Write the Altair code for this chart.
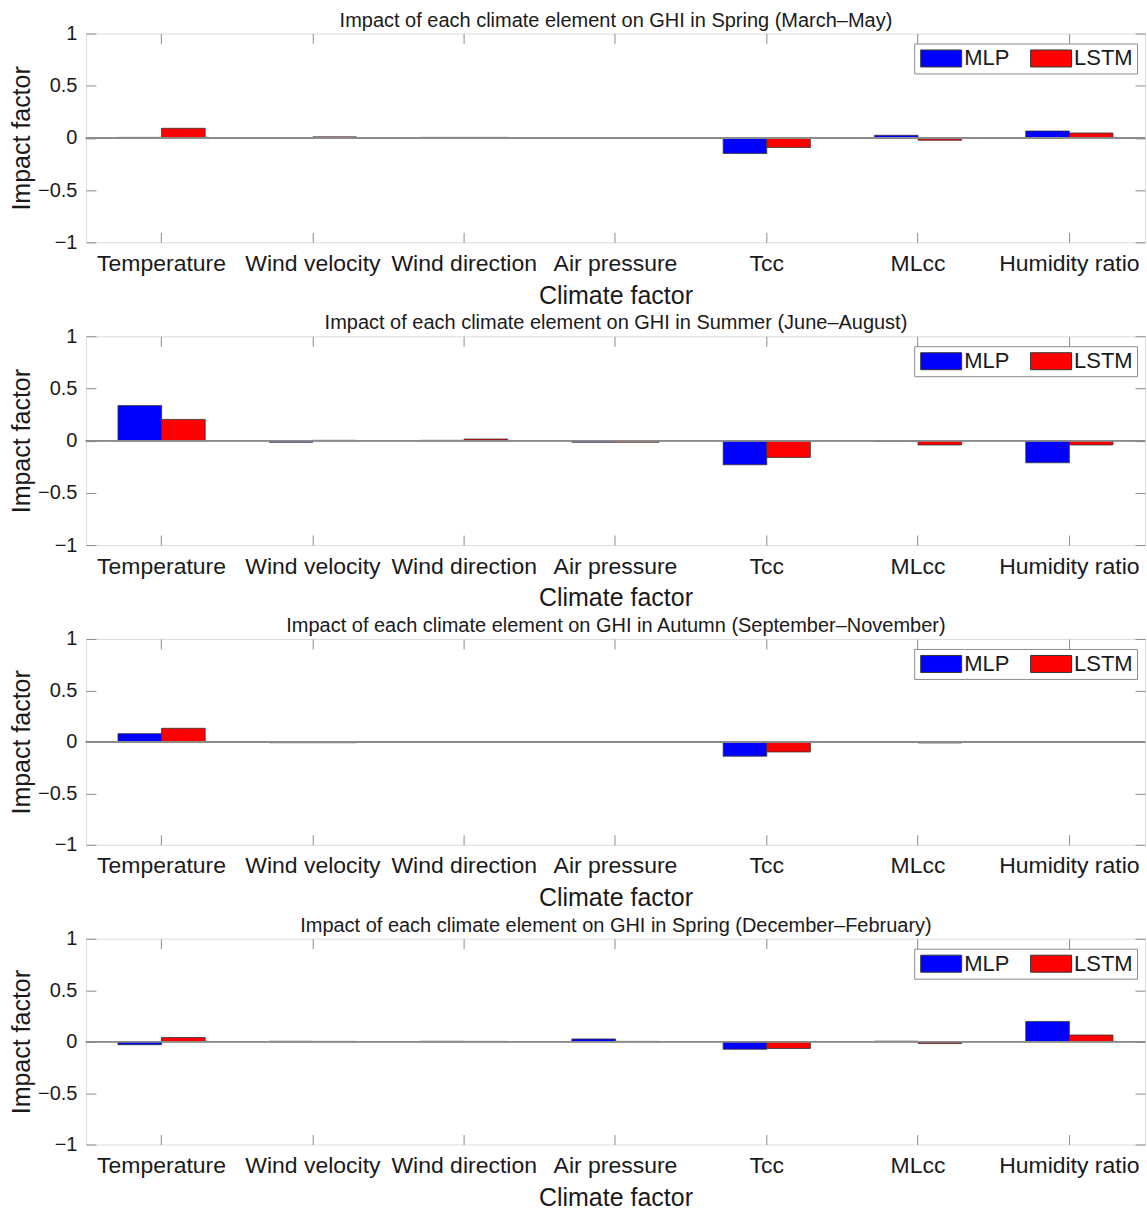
import altair as alt
import pandas as pd

categories = ["Temperature", "Wind velocity", "Wind direction", "Air pressure", "Tcc", "MLcc", "Humidity ratio"]
models = ["MLP", "LSTM"]
titles = [
    "Impact of each climate element on GHI in Spring (March\u2013May)",
    "Impact of each climate element on GHI in Summer (June\u2013August)",
    "Impact of each climate element on GHI in Autumn (September\u2013November)",
    "Impact of each climate element on GHI in Spring (December\u2013February)",
]
y_ticks = [-1, -0.5, 0, 0.5, 1]

mlp_spring = [0.005, 0.002, 0.005, -0.003, -0.149, 0.025, 0.066]
lstm_spring = [0.092, 0.010, 0.005, 0.002, -0.092, -0.022, 0.047]
mlp_summer = [0.336, -0.015, 0.003, -0.015, -0.231, -0.005, -0.212]
lstm_summer = [0.203, 0.003, 0.015, -0.015, -0.161, -0.041, -0.041]
mlp_autumn = [0.080, -0.008, 0.004, 0.002, -0.139, 0.002, 0.003]
lstm_autumn = [0.132, -0.008, 0.002, -0.003, -0.098, -0.010, -0.003]
mlp_winter = [-0.030, 0.003, 0.003, 0.026, -0.074, 0.004, 0.196]
lstm_winter = [0.040, 0.002, 0.002, 0.002, -0.067, -0.019, 0.064]

series = [
    (mlp_spring, lstm_spring),
    (mlp_summer, lstm_summer),
    (mlp_autumn, lstm_autumn),
    (mlp_winter, lstm_winter),
]

FONT = "Liberation Sans"
GREY = "#8c8c8c"
TXT = "#1a1a1a"
W = 1060
HEIGHTS = [209, 209, 206, 206]


def panel(title, mlp, lstm, h):
    df = pd.DataFrame({
        "factor": categories * 2,
        "model": [models[0]] * len(categories) + [models[1]] * len(categories),
        "value": list(mlp) + list(lstm),
    })
    base = alt.Chart(df)
    xscale = alt.Scale(paddingInner=0, paddingOuter=0)
    yscale = alt.Scale(domain=[-1, 1], nice=False, zero=False)
    xoff = alt.XOffset("model:N", sort=models,
                       scale=alt.Scale(paddingInner=0, paddingOuter=0.735))

    bars = base.mark_bar(stroke="#333333", strokeWidth=0.8).encode(
        x=alt.X("factor:N", sort=categories, scale=xscale,
                axis=alt.Axis(orient="bottom", offset=-10, tickSize=10, domain=False,
                              labelPadding=10, labelAngle=0, labelFontSize=23,
                              labelFont=FONT, labelColor=TXT, tickColor=GREY,
                              title="Climate factor", titleFontSize=25, titleFont=FONT,
                              titleFontWeight="normal", titleColor=TXT, titlePadding=8,
                              grid=False)),
        xOffset=xoff,
        y=alt.Y("value:Q", scale=yscale, stack=None,
                axis=alt.Axis(orient="left", offset=-10, tickSize=10, domain=False,
                              values=y_ticks, format="~g", labelPadding=9,
                              labelFontSize=20, labelFont=FONT, labelColor=TXT,
                              tickColor=GREY, title="Impact factor", titleFontSize=25,
                              titleFont=FONT, titleFontWeight="normal", titleColor=TXT,
                              titlePadding=3, grid=False)),
        color=alt.Color("model:N", sort=models,
                        scale=alt.Scale(domain=models, range=["#0000ff", "#ff0000"]),
                        legend=alt.Legend(orient="none", legendX=829, legendY=10,
                                          direction="horizontal", title=None,
                                          symbolType="M-2.41,-1L2.41,-1L2.41,1L-2.41,1Z",
                                          symbolSize=289, symbolOffset=12,
                                          symbolStrokeColor="#333333",
                                          symbolStrokeWidth=1, symbolOpacity=1,
                                          labelFontSize=22, labelFont=FONT,
                                          labelColor=TXT, labelOffset=12,
                                          columnPadding=18, padding=4,
                                          strokeColor=GREY, fillColor="white")),
    )

    zero = base.mark_rule(color=GREY, strokeWidth=1).encode(
        y=alt.YDatum(datum=0, axis=None),
    )

    ghost = base.mark_bar(opacity=0).encode(
        x=alt.X("factor:N", sort=categories,
                axis=alt.Axis(orient="top", offset=-10, tickSize=10, domain=False,
                              labels=False, title=title, titleFontSize=20,
                              titleFont=FONT, titleFontWeight="normal", titleColor=TXT,
                              titlePadding=3, tickColor=GREY, grid=False)),
        xOffset=xoff,
        y=alt.Y("value:Q", stack=None,
                axis=alt.Axis(orient="right", offset=-10, tickSize=10, domain=False,
                              values=y_ticks, labels=False, title=None,
                              tickColor=GREY, grid=False, maxExtent=0, minExtent=0)),
    )

    return alt.layer(bars, zero, ghost).resolve_axis(
        x="independent", y="independent"
    ).properties(width=W, height=h)


panels = [panel(t, m, l, h) for t, (m, l), h in zip(titles, series, HEIGHTS)]

chart = alt.vconcat(*panels, spacing=3).resolve_scale(
    color="independent"
).properties(
    padding={"left": 9, "top": 9, "right": 1, "bottom": 0}
).configure_view(
    stroke=GREY, strokeWidth=1
).configure(
    background="white"
)

chart.save("out.html", embed_options={"renderer": "svg", "actions": False})
